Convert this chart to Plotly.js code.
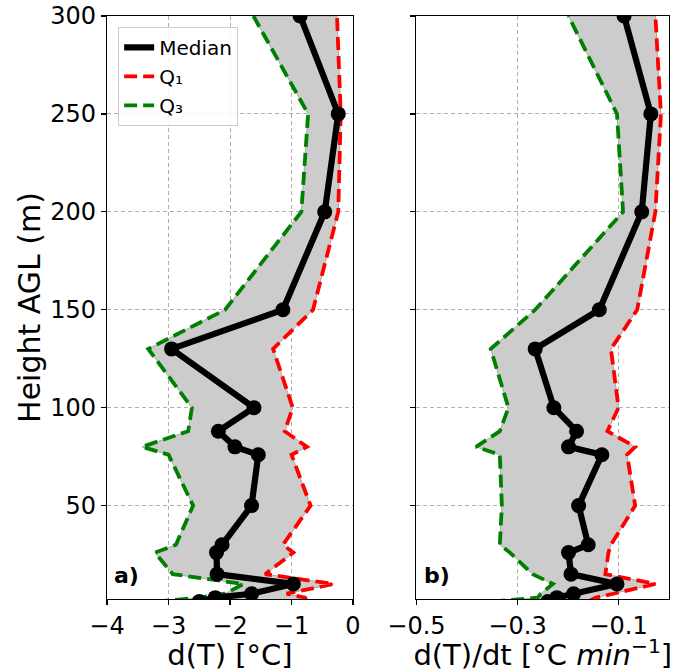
<!DOCTYPE html>
<html>
<head>
<meta charset="utf-8">
<script src="https://cdn.plot.ly/plotly-3.0.1.min.js"></script>
<style>html,body{margin:0;padding:0;background:#fff;}#chart{width:679px;height:672px;}</style>
</head>
<body>
<div id="chart"></div>
<script>
// Heights above ground level (m)
const heights = [1, 3, 5, 10, 15, 26, 30, 50, 76, 80, 88, 100, 130, 150, 200, 250, 300];

// Panel a) d(T) [°C]
const medianA = [-2.5, -2.24, -1.65, -0.97, -2.21, -2.22, -2.13, -1.65, -1.54, -1.92, -2.19, -1.61, -2.95, -1.14, -0.46, -0.24, -0.86];
const q1A     = [-0.75, -0.78, -1.08, -0.32, -1.43, -0.97, -1.14, -0.69, -1.0, -0.75, -1.11, -0.98, -1.30, -0.65, -0.24, -0.20, -0.26];
const q3A     = [-3.2, -2.5, -2.08, -1.78, -2.93, -3.22, -2.88, -2.60, -3.0, -3.43, -2.68, -2.62, -3.33, -2.08, -0.84, -0.73, -1.62];

// Panel b) d(T)/dt [°C min^-1]
const medianB = [-0.24, -0.222, -0.189, -0.103, -0.194, -0.199, -0.160, -0.179, -0.133, -0.199, -0.183, -0.228, -0.265, -0.138, -0.054, -0.036, -0.089];
const q1B     = [-0.16, -0.145, -0.11, -0.027, -0.126, -0.12, -0.115, -0.067, -0.083, -0.067, -0.122, -0.10, -0.115, -0.063, -0.027, -0.016, -0.027];
const q3B     = [-0.35, -0.26, -0.254, -0.23, -0.27, -0.315, -0.335, -0.331, -0.335, -0.382, -0.335, -0.318, -0.353, -0.265, -0.091, -0.103, -0.199];

const ticksA = [-4, -3, -2, -1, 0];
const ticksB = [-0.5, -0.3, -0.1];
const ticksY = [50, 100, 150, 200, 250, 300];

const FONT = 'DejaVu Sans, Arial, sans-serif';

function panel(med, q1, q3, xa, ya, legend) {
  const polyX = q3.concat(q1.slice().reverse());
  const polyY = heights.concat(heights.slice().reverse());
  return [
    {x: polyX, y: polyY, xaxis: xa, yaxis: ya, type: 'scatter', mode: 'lines', fill: 'toself',
     fillcolor: '#cccccc', line: {color: '#a8a8a8', width: 1}, showlegend: false, hoverinfo: 'skip'},
    {x: q1, y: heights, xaxis: xa, yaxis: ya, type: 'scatter', mode: 'lines', name: 'Q\u2081',
     line: {color: '#ff0000', width: 3.8, dash: '13px,6px'}, showlegend: legend},
    {x: q3, y: heights, xaxis: xa, yaxis: ya, type: 'scatter', mode: 'lines', name: 'Q\u2083',
     line: {color: '#008000', width: 3.8, dash: '13px,6px'}, showlegend: legend},
    {x: med, y: heights, xaxis: xa, yaxis: ya, type: 'scatter', mode: 'lines', name: 'Median',
     line: {color: '#000000', width: 6.2}, showlegend: legend},
    {x: med, y: heights, xaxis: xa, yaxis: ya, type: 'scatter', mode: 'markers',
     marker: {color: '#000000', size: 15}, showlegend: false, hoverinfo: 'skip'}
  ];
}

const tA = panel(medianA, q1A, q3A, 'x', 'y', true);
const tB = panel(medianB, q1B, q3B, 'x2', 'y2', false);
// legend order: Median, Q1, Q3
tA[3].legendrank = 1; tA[1].legendrank = 2; tA[2].legendrank = 3;
const data = tA.concat(tB);

const common = {
  showline: true, linecolor: '#000', linewidth: 1.2, mirror: true,
  ticks: 'outside', ticklen: 5, tickwidth: 1.2, tickcolor: '#000',
  showgrid: true, gridcolor: '#b0b0b0', griddash: '4px,3px', gridwidth: 1,
  zeroline: false, tickfont: {family: FONT, size: 24, color: '#000'}
};

const layout = {
  width: 679, height: 672,
  margin: {l: 0, r: 0, t: 0, b: 0},
  paper_bgcolor: '#fff', plot_bgcolor: '#fff',
  font: {family: FONT, color: '#000'},
  xaxis: Object.assign({}, common, {domain: [0.1576, 0.5199], range: [-4, 0], tickvals: ticksA,
    anchor: 'y', title: {text: 'd(T) [°C]', font: {family: FONT, size: 29}, standoff: 12}}),
  yaxis: Object.assign({}, common, {domain: [0.1086, 0.9762], range: [2.3, 300], tickvals: ticksY,
    anchor: 'x', title: {text: 'Height AGL (m)', font: {family: FONT, size: 30}, standoff: 0}}),
  xaxis2: Object.assign({}, common, {domain: [0.6134, 0.9853], range: [-0.5, 0], tickvals: ticksB,
    tickformat: '.1f', anchor: 'y2',
    title: {text: 'd(T)/dt [°C <i>min</i><sup>\u22121</sup>]', font: {family: FONT, size: 29}, standoff: 12}}),
  yaxis2: Object.assign({}, common, {domain: [0.1086, 0.9762], range: [2.3, 300], tickvals: ticksY,
    anchor: 'x2', showticklabels: false}),
  legend: {x: 0.174, y: 0.96, xanchor: 'left', yanchor: 'top',
    bgcolor: 'rgba(255,255,255,0.85)', bordercolor: '#cccccc', borderwidth: 1,
    font: {family: FONT, size: 20, color: '#000'}, traceorder: 'normal'},
  annotations: [
    {xref: 'x domain', yref: 'y domain', x: 0.02, y: 0.016, xanchor: 'left', yanchor: 'bottom',
     text: '<b>a)</b>', showarrow: false, font: {family: FONT, size: 22, color: '#000'}},
    {xref: 'x2 domain', yref: 'y2 domain', x: 0.02, y: 0.016, xanchor: 'left', yanchor: 'bottom',
     text: '<b>b)</b>', showarrow: false, font: {family: FONT, size: 22, color: '#000'}}
  ]
};

Plotly.newPlot('chart', data, layout, {staticPlot: true});
</script>
</body>
</html>
